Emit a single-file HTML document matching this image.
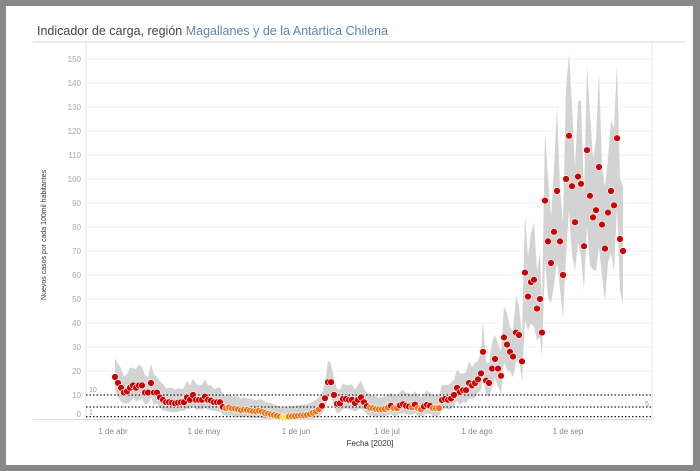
<!DOCTYPE html>
<html><head><meta charset="utf-8"><style>
html,body{margin:0;padding:0;background:#888;}
body{width:700px;height:471px;position:relative;overflow:hidden;font-family:"Liberation Sans",sans-serif;}
#panel{position:absolute;left:6px;top:6px;width:687px;height:459px;background:#fff;}
svg{position:absolute;left:0;top:0;}
</style></head><body>
<div id="panel"></div>
<svg id="s" width="700" height="471" xmlns="http://www.w3.org/2000/svg">
<text x="37" y="35" font-size="12.5" fill="#444" font-family="Liberation Sans, sans-serif">Indicador de carga, región <tspan fill="#5f84b0">Magallanes y de la Antártica Chilena</tspan></text>
<line x1="33" y1="42" x2="685" y2="42" stroke="#e6e6e6" stroke-width="1.5"/>
<g id="grid"></g>
<g id="band"></g>
<g id="ref"></g>
<g id="dots"></g>
</svg>
<script>
var s=document.getElementById('s');var NS='http://www.w3.org/2000/svg';
function el(t,a,p,txt){var e=document.createElementNS(NS,t);for(var k in a)e.setAttribute(k,a[k]);if(txt!==undefined)e.textContent=txt;(p||s).appendChild(e);return e;}
function Y(v){return 419-2.4*v;}
var g=document.getElementById('grid');
for(var v=0;v<=150;v+=10){var y=Y(v);
 if(v>0)el('line',{x1:86,y1:y,x2:652,y2:y,stroke:'#f0f0f0','stroke-width':1},g);
 el('text',{x:81,y:(v==0?417:y+3),'font-size':8,fill:'#aaa','text-anchor':'end'},g,String(v));}
el('line',{x1:86,y1:42,x2:86,y2:419,stroke:'#e6e6e6','stroke-width':1.2},g);
el('line',{x1:652,y1:42,x2:652,y2:419,stroke:'#e6e6e6','stroke-width':1},g);
el('line',{x1:33,y1:419.5,x2:652,y2:419.5,stroke:'#ddd','stroke-width':1},g);
var xt=[[113,'1 de abr'],[204,'1 de may'],[296,'1 de jun'],[387,'1 de jul'],[477,'1 de ago'],[568,'1 de sep']];
xt.forEach(function(t){el('text',{x:t[0],y:434,'font-size':8,fill:'#888','text-anchor':'middle'},g,t[1]);});
el('text',{x:370,y:446,'font-size':8,fill:'#333','text-anchor':'middle'},g,'Fecha [2020]');
el('text',{x:0,y:0,'font-size':7,fill:'#333','text-anchor':'middle',transform:'translate(46,235) rotate(-90)'},g,'Nuevos casos por cada 100mil habitantes');
var kp=[[115,17.5],[118,15],[121,13],[124,11],[127,11.5],[130,13],[133,14],[136,13],[139,14],[142,14],[145,11],[148,11],[151,15],[154,11],[157,11],[160,9],[163,8],[166,7],[170,7],[175,6.5],[180,7],[184,7],[187,9],[190,8],[193,10],[196,8],[199,8],[202,8],[204,10],[207,8],[210,8],[213,7],[216,7],[220,7],[223,5],[226,4.5],[230,5],[233,4],[236,4.5],[240,3.5],[245,4],[250,3.5],[255,3],[260,3.5],[265,2.5],[270,2],[275,1.5],[280,1],[284,0.5],[288,1],[295,1.2],[300,1.5],[305,1.5],[310,2],[315,3],[318,3.5],[321,5],
[323,6],[326,10],[329,18],[332,14],[335,8],[338,5.5],[341,7],[344,9],[347,8],[350,8],[353,8],[356,6],[359,9],[362,9],[365,6],[368,5],[371,4.5],[374,4.5],[377,4],[380,4],[384,4],[387,4.5],[391,5.5],[394,4.5],[397,4.5],[402,6.5],[405,5.5],[408,5.5],[411,4.5],[415,6],[418,4.5],[421,4],[426,6],[430,5.5],[433,4.5],[437,4.5],[439,4.5],[443,9],[446,8],[449,8],[453,9],[457,13],[459,11],[463,12],[466,12],[469,15],[472,14],[475,15],[478,16.5],[481,19]];
var late=[[483,28],[486,16],[489,15],[492,21],[495,25],[498,21],[501,18],[504,34],[507,31],[510,28],[513,26],[516,36],[519,35],[522,24],[525,61],[528,51],[531,57],[534,58],[537,46],[540,50],[542,36],[545,91],[548,74],[551,65],[554,78],[557,95],[560,74],[563,60],[566,100],[569,118],[572,97],[575,82],[578,101],[581,98],[584,72],[587,112],[590,93],[593,84],[596,87],[599,105],[602,81],[605,71],[608,86],[611,95],[614,89],[617,117],[620,75],[623,70]];
function val(x){for(var i=0;i<kp.length-1;i++){if(x>=kp[i][0]&&x<=kp[i+1][0]){var t=(x-kp[i][0])/(kp[i+1][0]-kp[i][0]);return kp[i][1]+t*(kp[i+1][1]-kp[i][1]);}}return kp[kp.length-1][1];}
var pts=[];for(var x=115;x<=481;x+=3)pts.push([x,val(x)]);
late.forEach(function(p){pts.push(p);});
var up=[],lo=[];
pts.forEach(function(p,i){var v=p[1];var j=((i*37)%11)/10;up.push([p[0],Y(v*1.22+4+j*v*0.12)]);lo.push([p[0],Y(Math.max(0,v*0.78-2-j*v*0.08))]);});
var d='M'+up.map(function(p){return p[0]+','+p[1].toFixed(1);}).join('L')+'L'+lo.reverse().map(function(p){return p[0]+','+p[1].toFixed(1);}).join('L')+'Z';
el('path',{d:d,fill:'#d3d3d3'},document.getElementById('band'));
var rg=document.getElementById('ref');
[10,5,1].forEach(function(r){var y=Y(r);el('line',{x1:86,y1:y,x2:652,y2:y,stroke:'#222','stroke-width':1.2,'stroke-dasharray':'1.5,2'},rg);});
el('text',{x:89,y:Y(10)-3,'font-size':7,fill:'#999'},rg,'10');
el('text',{x:89,y:Y(1)-2,'font-size':7,fill:'#999'},rg,'1');
el('text',{x:645,y:Y(5)-1,'font-size':7,fill:'#999'},rg,'5');
var dg=document.getElementById('dots');
pts.forEach(function(p){var v=p[1];var c=v>=5?'#cc0000':(v>=1?'#e8761c':'#f5e642');el('circle',{cx:p[0],cy:Y(v),r:3.4,fill:c,stroke:'#fff','stroke-width':0.6},dg);});
</script>
</body></html>
